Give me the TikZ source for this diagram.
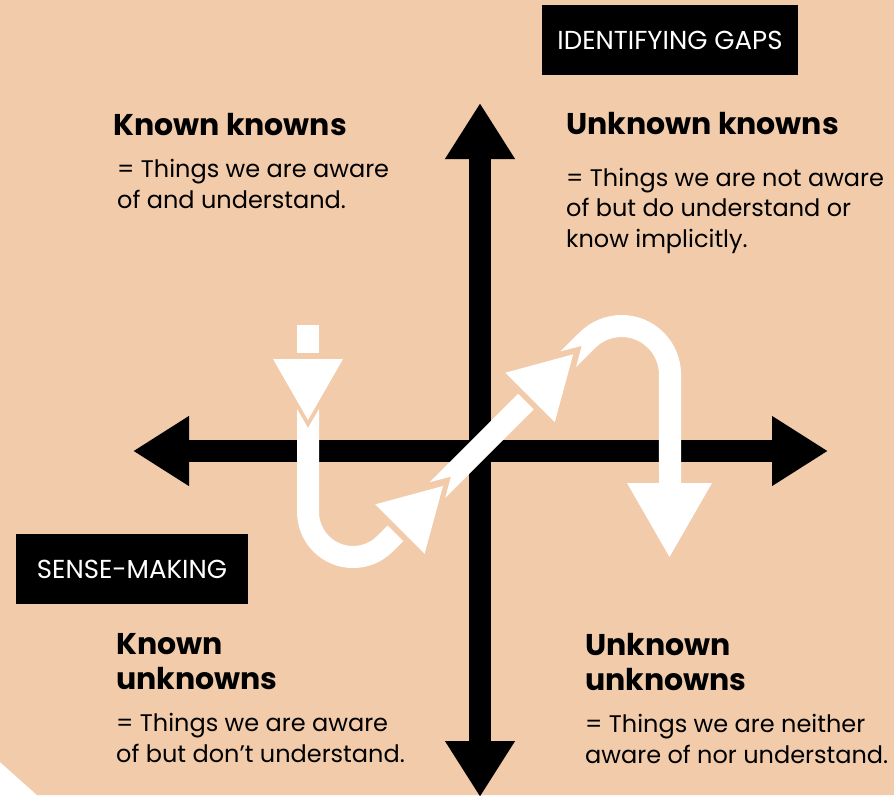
\documentclass[tikz,border=0pt]{standalone}
\usepackage{fontspec}
\setmainfont{Poppins}
\usepackage{tikz}
\usetikzlibrary{arrows.meta,positioning}
\usepackage{xcolor}
\definecolor{kkpeach}{RGB}{241,203,170}
\tikzstyle{axisline} = [line width=22pt, black, {Triangle[length=56pt,width=66pt]}-{Triangle[length=56pt,width=66pt]}]
\tikzstyle{flow} = [fill=white, draw=none]
\tikzstyle{heading} = [anchor=base west, inner sep=0pt, font=\bfseries\fontsize{30}{35}\selectfont, align=left]
\tikzstyle{body} = [anchor=base west, inner sep=0pt, font=\fontsize{24}{30.5}\selectfont, align=left]
\tikzstyle{tag} = [fill=black, text=white, inner sep=0pt, font=\fontsize{26}{28}\selectfont]

\begin{document}
\begin{tikzpicture}[x=1pt, y=-1pt]
\useasboundingbox (0,0) rectangle (894,795);
% Background with the clipped corner
\fill[kkpeach] (0,0) -- (894,0) -- (894,795) -- (37,795) -- (0,762) -- cycle;

% Axes
\coordinate (top) at (480,103);
\coordinate (bottom) at (480,797);
\coordinate (left) at (133,451);
\coordinate (right) at (828,451);
\draw[axisline] (bottom) -- (top);
\draw[axisline] (left) -- (right);

% Path through the quadrants
\fill[flow] (297,325) rectangle (319,353);
\fill[flow] (273,359) -- (343,359) -- (308,420) -- cycle;
\fill[flow] (297,409) -- (308,428) -- (319,409) -- (319,512)
  arc[start angle=180, end angle=45, radius=34] -- ++(10.6,-10.6) -- ++(15.6,15.6) -- ++(-10.6,10.6)
  arc[start angle=45, end angle=180, radius=56] -- cycle;
\fill[flow] (375.2,504.4) -- (443,486) -- (424.6,553.8) -- cycle;
\fill[flow] (429.7,482.2) -- (450.9,476.6) -- (445.3,497.8) -- (533.7,409.4) -- (518.1,393.8) -- cycle;
\fill[flow] (505.4,372.7) -- (573.2,354.3) -- (554.8,422.1) -- cycle;
\fill[flow] (560.5,351.4) -- (581.7,345.8) -- (576.1,367.0) -- ++(19,-19)
  arc[start angle=-135, end angle=0, radius=37.4] -- (659,483) -- (681,483) -- (681,374.4)
  arc[start angle=0, end angle=-135, radius=59.4] -- cycle;
\fill[flow] (627,483) -- (712,483) -- (669.5,557) -- cycle;

% Labels on black
\node[tag, minimum width=256pt, minimum height=70pt] (gaps) at (670,40) {IDENTIFYING GAPS};
\node[tag, minimum width=232pt, minimum height=70pt] (sense) at (132,569) {SENSE-MAKING};

% Quadrant texts (anchored at the last line)
\node[heading] (kk) at (113,135) {Known knowns};
\node[body] (kkText) at (117,208) {= Things we are aware\\of and understand.};

\node[heading] (uk) at (566,134) {Unknown knowns};
\node[body] (ukText) at (566,247) {= Things we are not aware\\of but do understand or\\know implicitly.};

\node[heading] (ku) at (116,689) {Known\\unknowns};
\node[body] (kuText) at (116,762) {= Things we are aware\\of but don't understand.};

\node[heading] (uu) at (585,690) {Unknown\\unknowns};
\node[body] (uuText) at (585,763) {= Things we are neither\\aware of nor understand.};
\end{tikzpicture}
\end{document}
